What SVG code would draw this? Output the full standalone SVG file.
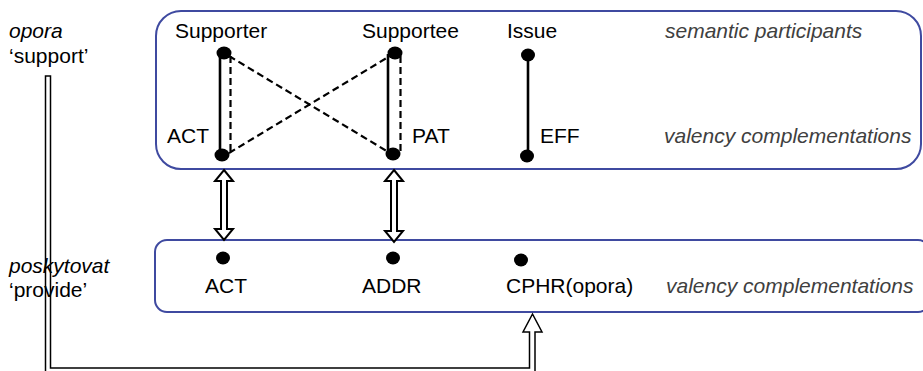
<svg xmlns="http://www.w3.org/2000/svg" width="923" height="371" viewBox="0 0 923 371">
<defs>
<style>
.t{font-family:"Liberation Sans",Arial,sans-serif;font-size:21px;fill:#000}
.i{font-family:"Liberation Sans",Arial,sans-serif;font-size:21px;font-style:italic;fill:#000}
.g{font-family:"Liberation Sans",Arial,sans-serif;font-size:21px;font-style:italic;fill:#404040}
.box{fill:none;stroke:#3F4AA0;stroke-width:2}
.dot{fill:#000}
.solid{stroke:#000;stroke-width:2.6;fill:none}
.dash{stroke:#000;stroke-width:2.2;stroke-dasharray:7 4;fill:none}
.hollow{fill:#fff;stroke:#000;stroke-width:2;stroke-linejoin:miter}
.hollow2{fill:none;stroke:#000;stroke-width:1.5;stroke-linejoin:miter}
</style>
</defs>
<rect width="923" height="371" fill="#fff"/>

<g id="left-labels">
<text class="i" x="9" y="38">opora</text>
<text class="t" x="9" y="63">‘support’</text>
<text class="i" x="9" y="273">poskytovat</text>
<text class="t" x="9" y="297">‘provide’</text>
</g>

<g id="top-box">
<rect class="box" x="156" y="11" width="765" height="158" rx="25" ry="25"/>
<text class="t" x="175" y="38">Supporter</text>
<text class="t" x="362" y="38">Supportee</text>
<text class="t" x="507" y="38">Issue</text>
<text class="g" x="665" y="38">semantic participants</text>
<text class="t" x="167" y="143">ACT</text>
<text class="t" x="412" y="143">PAT</text>
<text class="t" x="540" y="143">EFF</text>
<text class="g" x="664" y="143">valency complementations</text>
</g>

<g id="bottom-box">
<rect class="box" x="155" y="240" width="775" height="72" rx="12" ry="12"/>
<text class="t" x="205" y="293">ACT</text>
<text class="t" x="362" y="293">ADDR</text>
<text class="t" x="506" y="293">CPHR(opora)</text>
<text class="g" x="666" y="293">valency complementations</text>
</g>

<g id="connectors">
<line class="solid" x1="220" y1="54" x2="220" y2="154"/>
<line class="dash" x1="230.5" y1="56" x2="230.5" y2="153"/>
<line class="solid" x1="388" y1="54" x2="388" y2="154"/>
<line class="dash" x1="400.5" y1="56" x2="400.5" y2="153"/>
<line class="dash" x1="229" y1="56" x2="390" y2="153"/>
<line class="dash" x1="229" y1="153" x2="390" y2="56"/>
<line class="solid" x1="528" y1="55" x2="528" y2="156"/>
<polygon class="hollow" points="224,170 233,181 227,181 227,229 233,229 224,240 215,229 221,229 221,181 215,181"/>
<polygon class="hollow" points="394,170 403,181 397,181 397,231 403,231 394,242 385,231 391,231 391,181 385,181"/>
<path class="hollow2" d="M45.5,76 L50.5,76 L50.5,368 L529.5,368 L529.5,332 L523,332 L532.5,314 L542,332 L535,332 L535,374 L45.5,374 Z"/>
</g>

<g id="dots">
<ellipse class="dot" cx="224" cy="53" rx="7.5" ry="6.5"/>
<ellipse class="dot" cx="222" cy="155" rx="7.5" ry="6.5"/>
<ellipse class="dot" cx="395" cy="53" rx="7.5" ry="6.5"/>
<ellipse class="dot" cx="393" cy="154" rx="7.5" ry="6.5"/>
<ellipse class="dot" cx="528" cy="55" rx="7" ry="6.5"/>
<ellipse class="dot" cx="527" cy="156" rx="7" ry="6.5"/>
<ellipse class="dot" cx="223" cy="258" rx="7" ry="6.5"/>
<ellipse class="dot" cx="393" cy="258" rx="7" ry="6.5"/>
<ellipse class="dot" cx="521" cy="260" rx="7" ry="6.5"/>
</g>
</svg>
